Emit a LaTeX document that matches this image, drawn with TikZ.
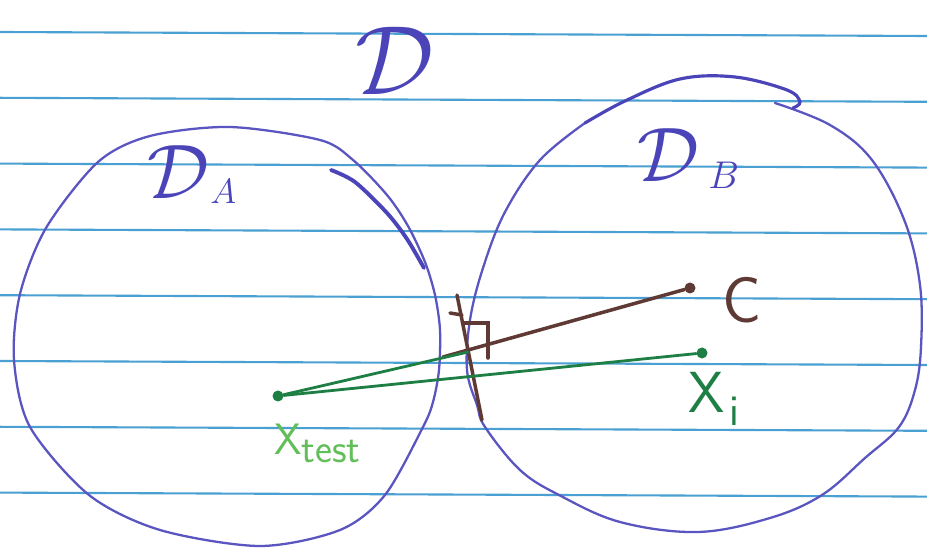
\RequirePackage{fix-cm}
\documentclass[tikz,border=0pt]{standalone}
\usepackage{fontspec}
\usepackage{tikz}
\definecolor{ppB}{HTML}{4AA0D2}
\definecolor{inkB}{HTML}{5A55C0}
\definecolor{inkD}{HTML}{4A44B8}
\definecolor{brn}{HTML}{5F3A34}
\definecolor{gnD}{HTML}{1E7F45}
\definecolor{gnL}{HTML}{62BE58}

\begin{document}
\begin{tikzpicture}[x=0.02cm,y=-0.02cm,
  ring/.style={draw=inkB,line width=1.3pt,line cap=round,line join=round},
  inkpen/.style={draw=inkD,line width=2.2pt,line cap=round},
  rule/.style={draw=ppB,line width=1.2pt},
  dot/.style={circle,inner sep=0pt,minimum size=2.2mm},
  brpen/.style={draw=brn,line width=2pt,line cap=round},
  gnpen/.style={draw=gnD,line width=1.6pt,line cap=round},
  bigD/.style={text=inkD,inner sep=0pt},
  ]

% ---- paper ----
\fill[white] (0,0) rectangle (927,550);
\useasboundingbox (0,0) rectangle (927,550);
\foreach \k in {0,...,7}
  \draw[rule] (0,{32+65.8*\k}) -- (927,{36+65.8*\k});

% ---- the two balls ----
\draw[ring] plot[smooth cycle,tension=0.5] coordinates {(14,360) (20,294) (46,228) (98,162) (150,136) (230,127) (320,140) (353,160) (387,195) (408,226) (425,262) (435,295) (440,330) (439,370) (433,402) (423,427) (385,495) (340,530) (260,546) (160,530) (89,495) (30,427)};
\draw[inkpen] plot[smooth] coordinates {(331,170) (355,182) (387,213) (407,239) (424,268)};
\draw[ring] plot[smooth,tension=0.6] coordinates {(585,123) (540,160) (505,212) (483,268) (470,320) (467,370) (477,405) (485,427) (520,470) (559,495) (620,522) (698,532) (770,518) (822,495) (865,458) (899,427) (915,390) (921,347) (920,285) (905,222) (872,160) (830,125) (775,103)};
\draw[inkpen,line width=1.8pt] plot[smooth,tension=0.6] coordinates {(585,123) (625,101) (680,79) (735,77) (787,90) (800,102) (793,108)};

% ---- labels D ----
\node[bigD,font=\fontsize{56}{56}\selectfont] (dd) at (395,61) {$\mathcal{D}$};
\node[bigD,font=\fontsize{44}{44}\selectfont] (da) at (178,172) {$\mathcal{D}$};
\node[bigD,font=\fontsize{20}{20}\selectfont,anchor=base west] (dasub) at (210,204) {$A$};
\node[bigD,font=\fontsize{44}{44}\selectfont] (db) at (668,155) {$\mathcal{D}$};
\node[bigD,font=\fontsize{22}{22}\selectfont,anchor=base west] (dbsub) at (708,189) {$B$};

% ---- points ----
\node[dot,fill=brn] (c) at (690,288) {};
\node[dot,fill=gnD] (xt) at (278,396) {};
\node[dot,fill=gnD] (xi) at (702,353) {};
\coordinate (bn) at (457,295);
\coordinate (bs) at (482,420);
\coordinate (ft) at (443,357);
\coordinate (ge) at (468,352);
\coordinate (sqa) at (463,323);
\coordinate (sqb) at (488,323);
\coordinate (sqc) at (488,358);
\coordinate (tka) at (450,313);
\coordinate (tkb) at (462,315);

% ---- boundary + distances ----
\draw[brpen] (bn) -- (bs);
\draw[brpen] (tka) -- (tkb);
\draw[brpen] (sqa) -- (sqb) -- (sqc);
\draw[brpen] (c) -- (ft);
\draw[gnpen] (xt) -- (ge);
\draw[gnpen] (xt) -- (xi);

% ---- point labels ----
\node[text=brn,font=\sffamily\fontsize{37}{37}\selectfont] (cl) at (742,300) {C};
\node[text=gnD,font=\sffamily\fontsize{33}{33}\selectfont,anchor=base west,inner sep=0pt] (xil) at (688,413) {X\hspace{3pt}\raisebox{-7pt}{\fontsize{25}{25}\selectfont i}};
\node[text=gnL,font=\sffamily\fontsize{25}{25}\selectfont,anchor=base west,inner sep=0pt] (xtl) at (274,455) {X\raisebox{-4pt}{\fontsize{23}{23}\selectfont test}};

\end{tikzpicture}
\end{document}
